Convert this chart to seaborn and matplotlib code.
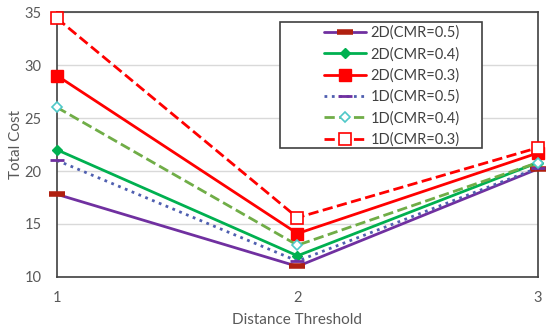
import pandas as pd
import matplotlib
matplotlib.use("Agg")
import matplotlib.pyplot as plt
from matplotlib.patches import Rectangle
import seaborn as sns

# Data
thresholds = [1, 2, 3]
series_names = ["2D(CMR=0.5)", "2D(CMR=0.4)", "2D(CMR=0.3)",
                "1D(CMR=0.5)", "1D(CMR=0.4)", "1D(CMR=0.3)"]
cost_2d_05 = [17.8, 11.0, 20.2]
cost_2d_04 = [22.0, 12.0, 20.8]
cost_2d_03 = [29.0, 14.1, 21.7]
cost_1d_05 = [21.0, 11.5, 20.3]
cost_1d_04 = [26.0, 13.0, 20.8]
cost_1d_03 = [34.4, 15.6, 22.2]

all_costs = [cost_2d_05, cost_2d_04, cost_2d_03, cost_1d_05, cost_1d_04, cost_1d_03]

rows = []
for name, costs in zip(series_names, all_costs):
    for t, c in zip(thresholds, costs):
        rows.append({"series": name, "threshold": t, "cost": c})
df = pd.DataFrame(rows)

# Styling per series
styles = {
    "2D(CMR=0.5)": dict(color="#7030A0", ls="-", marker="_", mfc="#B02010", mec="#B02010", ms=12, mew=4),
    "2D(CMR=0.4)": dict(color="#00B050", ls="-", marker="D", mfc="#00B050", mec="#00B050", ms=5, mew=1),
    "2D(CMR=0.3)": dict(color="#FF0000", ls="-", marker="s", mfc="#FF0000", mec="#FF0000", ms=9, mew=1),
    "1D(CMR=0.5)": dict(color="#4F5FB0", ls=":", marker="_", mfc="#7030A0", mec="#7030A0", ms=10, mew=2),
    "1D(CMR=0.4)": dict(color="#70AD47", ls="--", marker="D", mfc="white", mec="#4FC8C8", ms=5, mew=1.2),
    "1D(CMR=0.3)": dict(color="#FF0000", ls="--", marker="s", mfc="white", mec="#FF0000", ms=8, mew=1.2),
}

sns.set_style("white")
plt.rcParams["font.family"] = ["Lato", "DejaVu Sans"]

fig = plt.figure(figsize=(5.5, 3.34), dpi=100)
ax = fig.add_axes([0.1036, 0.1707, 0.8745, 0.7933])

for name in series_names:
    st = styles[name]
    sub = df[df["series"] == name]
    sns.lineplot(data=sub, x="threshold", y="cost", ax=ax, label=name,
                 color=st["color"], linestyle=st["ls"], linewidth=2,
                 marker=st["marker"], markersize=st["ms"],
                 markerfacecolor=st["mfc"], markeredgecolor=st["mec"],
                 markeredgewidth=st["mew"], clip_on=False, zorder=3)

ax.set_xlim(1, 3)
ax.set_ylim(10, 35)
ax.set_xticks(thresholds)
ax.set_yticks([10, 15, 20, 25, 30, 35])
ax.yaxis.grid(True, color="#D9D9D9", linewidth=1)
ax.tick_params(axis="both", colors="#595959", labelsize=10.5, length=0)
ax.tick_params(axis="y", pad=11)
ax.tick_params(axis="x", pad=10)
for sp in ax.spines.values():
    sp.set_color("#404040")
    sp.set_linewidth(1.2)

ax.set_xlabel("Distance Threshold", color="#595959", fontsize=11, labelpad=6)
ax.set_ylabel("Total Cost", color="#595959", fontsize=11, labelpad=1)

# legend entries without frame, box drawn separately like the original
leg = ax.legend(loc="upper left", bbox_to_anchor=(0.547, 0.962), frameon=False,
                fontsize=10.5, handlelength=2.9, handletextpad=0.3,
                labelspacing=0.48, borderpad=0.25, borderaxespad=0)
for txt in leg.get_texts():
    txt.set_color("#404040")
ax.add_patch(Rectangle((0.4636, 0.487), 0.42, 0.475, transform=ax.transAxes,
                       fill=True, facecolor="white", edgecolor="#404040",
                       linewidth=1.2, zorder=4))
leg.set_zorder(5)

fig.savefig("out.png", dpi=100)
